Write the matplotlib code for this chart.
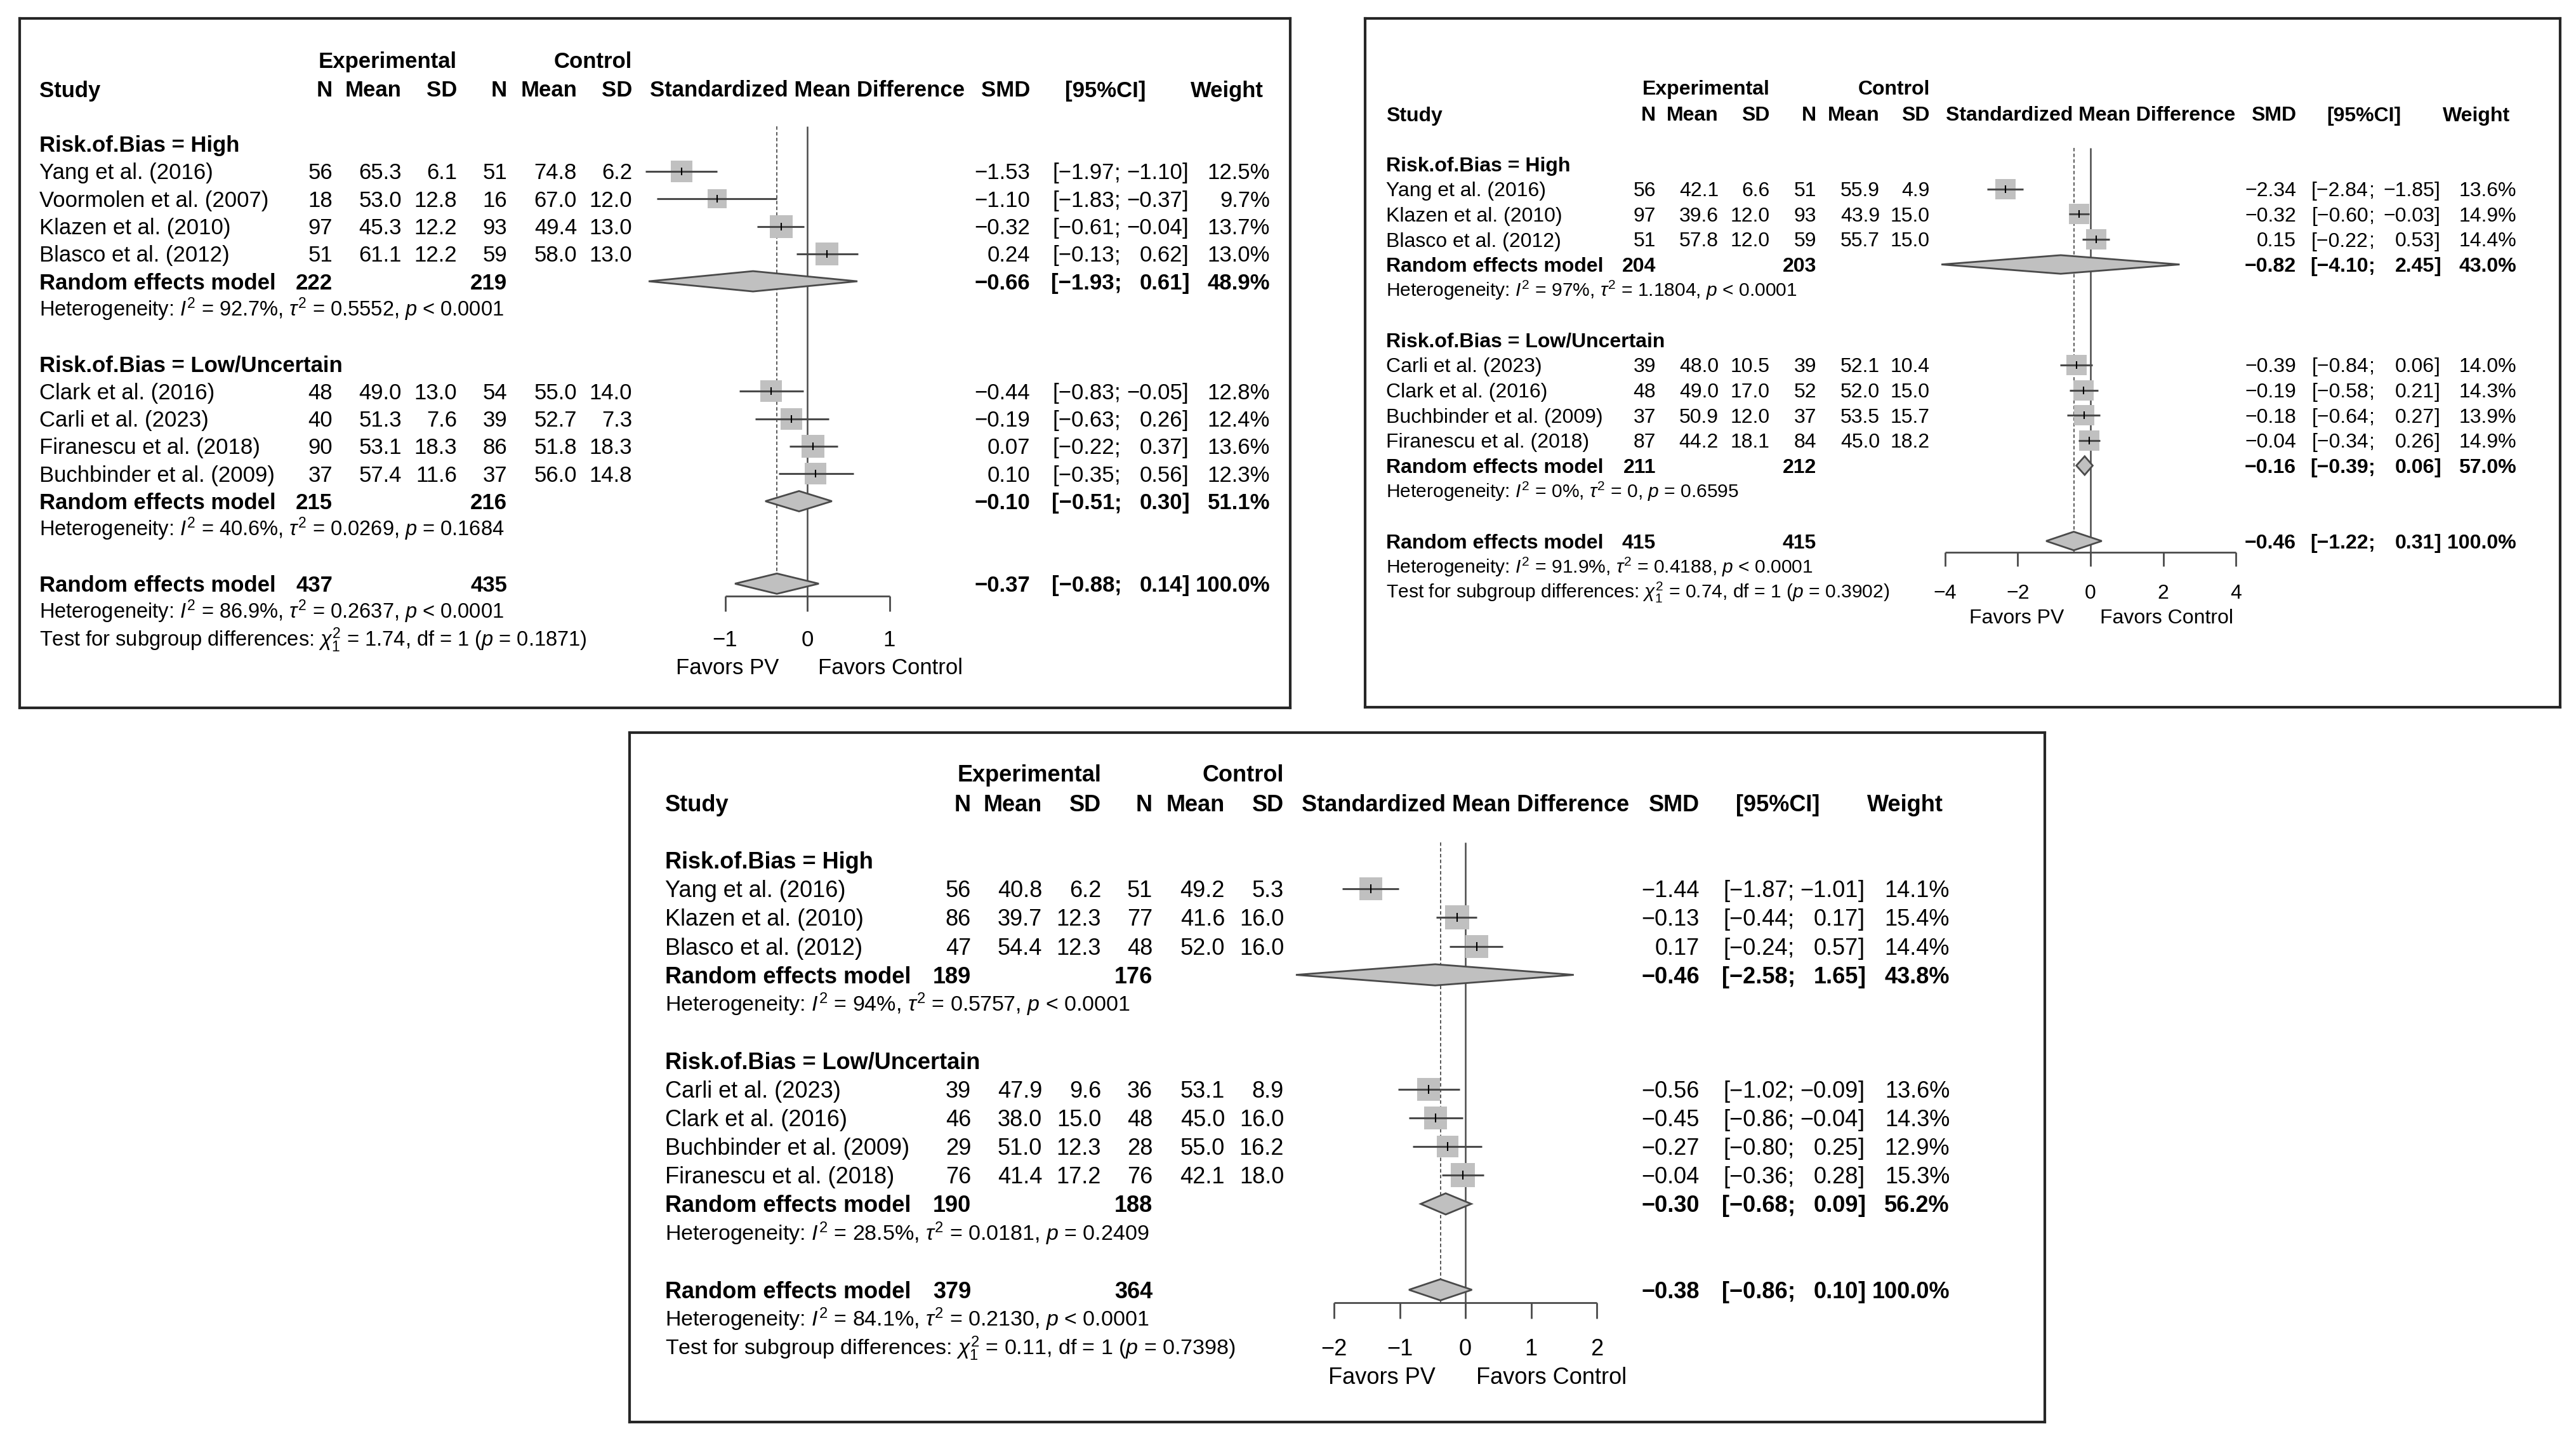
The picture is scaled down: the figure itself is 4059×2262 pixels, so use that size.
import matplotlib.pyplot as plt
from matplotlib import transforms
import numpy as np

plt.rcParams['font.family'] = ['Liberation Sans', 'DejaVu Sans']
plt.rcParams['mathtext.fontset'] = 'custom'
plt.rcParams['mathtext.rm'] = 'Liberation Sans'
plt.rcParams['mathtext.it'] = 'Liberation Sans:italic'
plt.rcParams['mathtext.bf'] = 'Liberation Sans:bold'

# ---------------- panel 1 (top left) ----------------
p1_high_study = ["Yang et al. (2016)", "Voormolen et al. (2007)", "Klazen et al. (2010)", "Blasco et al. (2012)"]
p1_high_exp = [(56, 65.3, 6.1), (18, 53.0, 12.8), (97, 45.3, 12.2), (51, 61.1, 12.2)]
p1_high_ctrl = [(51, 74.8, 6.2), (16, 67.0, 12.0), (93, 49.4, 13.0), (59, 58.0, 13.0)]
p1_high_smd = [-1.53, -1.10, -0.32, 0.24]
p1_high_lo = [-1.97, -1.83, -0.61, -0.13]
p1_high_hi = [-1.10, -0.37, -0.04, 0.62]
p1_high_w = [12.5, 9.7, 13.7, 13.0]
p1_high_re = (222, 219, -0.66, -1.93, 0.61, 48.9)
p1_high_het = ("92.7%", "0.5552", "< 0.0001")

p1_low_study = ["Clark et al. (2016)", "Carli et al. (2023)", "Firanescu et al. (2018)", "Buchbinder et al. (2009)"]
p1_low_exp = [(48, 49.0, 13.0), (40, 51.3, 7.6), (90, 53.1, 18.3), (37, 57.4, 11.6)]
p1_low_ctrl = [(54, 55.0, 14.0), (39, 52.7, 7.3), (86, 51.8, 18.3), (37, 56.0, 14.8)]
p1_low_smd = [-0.44, -0.19, 0.07, 0.10]
p1_low_lo = [-0.83, -0.63, -0.22, -0.35]
p1_low_hi = [-0.05, 0.26, 0.37, 0.56]
p1_low_w = [12.8, 12.4, 13.6, 12.3]
p1_low_re = (215, 216, -0.10, -0.51, 0.30, 51.1)
p1_low_het = ("40.6%", "0.0269", "= 0.1684")

p1_all_re = (437, 435, -0.37, -0.88, 0.14, 100.0)
p1_all_het = ("86.9%", "0.2637", "< 0.0001")
p1_test = ("1.74", "0.1871")
p1_ticks = [-1, 0, 1]

# ---------------- panel 2 (top right) ----------------
p2_high_study = ["Yang et al. (2016)", "Klazen et al. (2010)", "Blasco et al. (2012)"]
p2_high_exp = [(56, 42.1, 6.6), (97, 39.6, 12.0), (51, 57.8, 12.0)]
p2_high_ctrl = [(51, 55.9, 4.9), (93, 43.9, 15.0), (59, 55.7, 15.0)]
p2_high_smd = [-2.34, -0.32, 0.15]
p2_high_lo = [-2.84, -0.60, -0.22]
p2_high_hi = [-1.85, -0.03, 0.53]
p2_high_w = [13.6, 14.9, 14.4]
p2_high_re = (204, 203, -0.82, -4.10, 2.45, 43.0)
p2_high_het = ("97%", "1.1804", "< 0.0001")

p2_low_study = ["Carli et al. (2023)", "Clark et al. (2016)", "Buchbinder et al. (2009)", "Firanescu et al. (2018)"]
p2_low_exp = [(39, 48.0, 10.5), (48, 49.0, 17.0), (37, 50.9, 12.0), (87, 44.2, 18.1)]
p2_low_ctrl = [(39, 52.1, 10.4), (52, 52.0, 15.0), (37, 53.5, 15.7), (84, 45.0, 18.2)]
p2_low_smd = [-0.39, -0.19, -0.18, -0.04]
p2_low_lo = [-0.84, -0.58, -0.64, -0.34]
p2_low_hi = [0.06, 0.21, 0.27, 0.26]
p2_low_w = [14.0, 14.3, 13.9, 14.9]
p2_low_re = (211, 212, -0.16, -0.39, 0.06, 57.0)
p2_low_het = ("0%", "0", "= 0.6595")

p2_all_re = (415, 415, -0.46, -1.22, 0.31, 100.0)
p2_all_het = ("91.9%", "0.4188", "< 0.0001")
p2_test = ("0.74", "0.3902")
p2_ticks = [-4, -2, 0, 2, 4]

# ---------------- panel 3 (bottom) ----------------
p3_high_study = ["Yang et al. (2016)", "Klazen et al. (2010)", "Blasco et al. (2012)"]
p3_high_exp = [(56, 40.8, 6.2), (86, 39.7, 12.3), (47, 54.4, 12.3)]
p3_high_ctrl = [(51, 49.2, 5.3), (77, 41.6, 16.0), (48, 52.0, 16.0)]
p3_high_smd = [-1.44, -0.13, 0.17]
p3_high_lo = [-1.87, -0.44, -0.24]
p3_high_hi = [-1.01, 0.17, 0.57]
p3_high_w = [14.1, 15.4, 14.4]
p3_high_re = (189, 176, -0.46, -2.58, 1.65, 43.8)
p3_high_het = ("94%", "0.5757", "< 0.0001")

p3_low_study = ["Carli et al. (2023)", "Clark et al. (2016)", "Buchbinder et al. (2009)", "Firanescu et al. (2018)"]
p3_low_exp = [(39, 47.9, 9.6), (46, 38.0, 15.0), (29, 51.0, 12.3), (76, 41.4, 17.2)]
p3_low_ctrl = [(36, 53.1, 8.9), (48, 45.0, 16.0), (28, 55.0, 16.2), (76, 42.1, 18.0)]
p3_low_smd = [-0.56, -0.45, -0.27, -0.04]
p3_low_lo = [-1.02, -0.86, -0.80, -0.36]
p3_low_hi = [-0.09, -0.04, 0.25, 0.28]
p3_low_w = [13.6, 14.3, 12.9, 15.3]
p3_low_re = (190, 188, -0.30, -0.68, 0.09, 56.2)
p3_low_het = ("28.5%", "0.0181", "= 0.2409")

p3_all_re = (379, 364, -0.38, -0.86, 0.10, 100.0)
p3_all_het = ("84.1%", "0.2130", "< 0.0001")
p3_test = ("0.11", "0.7398")
p3_ticks = [-2, -1, 0, 1, 2]

group_labels = ["Risk.of.Bias = High", "Risk.of.Bias = Low/Uncertain"]

W, H = 4059, 2262
fig = plt.figure(figsize=(W / 100, H / 100), dpi=100)
fig.patch.set_facecolor('white')

LINE = '#4a4a4a'
BOX = '#c0c0c0'


def num(v):
    s = f"{abs(v):.2f}"
    return "\u2212" + s if v < 0 else s


def het_text(h):
    return rf"Heterogeneity: $I^2$ = {h[0]}, $\tau^2$ = {h[1]}, $p$ {h[2]}"


def draw_panel(g, groups, all_re, all_het, test, ticks):
    x0, y0, x1, y1 = g['box']
    dy, sy, fs = g['dy'], g['study_y'], g['fs']
    c = g['cols']
    rect = [x0 / W, 1 - y1 / H, (x1 - x0) / W, (y1 - y0) / H]
    r_top = (y0 - sy) / dy
    r_bot = (y1 - sy) / dy

    tax = fig.add_axes(rect)
    tax.set_xlim(0, 1)
    tax.set_ylim(r_bot, r_top)
    tax.set_xticks([])
    tax.set_yticks([])
    for sp in tax.spines.values():
        sp.set_linewidth(3)
        sp.set_color('#262626')

    fax = fig.add_axes(rect, frameon=False)
    fax.set_xlim((x0 - g['ref']) / g['ppu'], (x1 - g['ref']) / g['ppu'])
    fax.set_ylim(r_bot, r_top)
    fax.axis('off')

    tr = transforms.blended_transform_factory(fig.transFigure, tax.transData)
    em = fs * 100 / 72 / dy
    fsh = fs * 0.94

    def base(r, size):
        return r + 0.36 * em * size / fs

    def put(xpx, r, s, size=fs, ha='left', bold=False):
        tax.text(xpx / W, base(r, size), s, transform=tr, fontsize=size, ha=ha,
                 va='baseline', fontweight='bold' if bold else 'normal')

    def stats(r, est, lo, hi, w, bold=False):
        put(c['smd'], r, num(est), ha='right', bold=bold)
        put(c['lo'], r, "[" + num(lo), ha='right', bold=bold)
        put(c['lo'], r, ";", bold=bold)
        put(c['hi'], r, num(hi), ha='right', bold=bold)
        put(c['hi'], r, "]", bold=bold)
        put(c['wt'], r, f"{w:.1f}%", ha='right', bold=bold)

    def diamond(r, est, lo, hi):
        h = 0.37
        fax.fill([lo, est, hi, est], [r, r - h, r, r + h], facecolor=BOX,
                 edgecolor=LINE, lw=2, zorder=4)

    # header
    put(c['esd'], -1.05, "Experimental", ha='right', bold=True)
    put(c['csd'], -1.05, "Control", ha='right', bold=True)
    put(c['study'], 0, "Study", bold=True)
    for key, lab in [('en', 'N'), ('em', 'Mean'), ('esd', 'SD'), ('cn', 'N'),
                     ('cm', 'Mean'), ('csd', 'SD'), ('smd', 'SMD')]:
        put(c[key], 0, lab, ha='right', bold=True)
    fax.text(0, base(0, fs), "Standardized Mean Difference", ha='center',
             va='baseline', fontsize=fs, fontweight='bold')
    put(c['cih'], 0, "[95%CI]", ha='center', bold=True)
    put(c['wt'] - 10, 0, "Weight", ha='right', bold=True)

    wmax = max(max(gr[5]) for gr in groups)
    r = 2
    for label, gr in zip(group_labels, groups):
        study, exp, ctrl, smd, (lo, hi), w, re, het = gr
        put(c['study'], r, label, bold=True)
        r += 1
        for i in range(len(study)):
            put(c['study'], r, study[i])
            put(c['en'], r, f"{exp[i][0]}", ha='right')
            put(c['em'], r, f"{exp[i][1]:.1f}", ha='right')
            put(c['esd'], r, f"{exp[i][2]:.1f}", ha='right')
            put(c['cn'], r, f"{ctrl[i][0]}", ha='right')
            put(c['cm'], r, f"{ctrl[i][1]:.1f}", ha='right')
            put(c['csd'], r, f"{ctrl[i][2]:.1f}", ha='right')
            stats(r, smd[i], lo[i], hi[i], w[i])
            side = 0.83 * dy * np.sqrt(w[i] / wmax) * 0.72
            fax.scatter([smd[i]], [r], s=side ** 2, marker='s', color=BOX, lw=0, zorder=3)
            fax.hlines(r, lo[i], hi[i], color=LINE, lw=2.2, zorder=4)
            fax.plot([smd[i]], [r], marker='|', ms=0.3 * dy * 0.72, mew=1.5, color='black', zorder=5)
            r += 1
        put(c['study'], r, "Random effects model", bold=True)
        put(c['en'], r, f"{re[0]}", ha='right', bold=True)
        put(c['cn'], r, f"{re[1]}", ha='right', bold=True)
        stats(r, re[2], re[3], re[4], re[5], bold=True)
        diamond(r, re[2], re[3], re[4])
        r += 1
        put(c['study'], r, het_text(het), size=fsh)
        r += 2

    r_all = r
    put(c['study'], r_all, "Random effects model", bold=True)
    put(c['en'], r_all, f"{all_re[0]}", ha='right', bold=True)
    put(c['cn'], r_all, f"{all_re[1]}", ha='right', bold=True)
    stats(r_all, all_re[2], all_re[3], all_re[4], all_re[5], bold=True)
    diamond(r_all, all_re[2], all_re[3], all_re[4])
    put(c['study'], r_all + 1, het_text(all_het), size=fsh)
    put(c['study'], r_all + 2,
        rf"Test for subgroup differences: $\chi^2_1$ = {test[0]}, df = 1 ($p$ = {test[1]})",
        size=fsh)

    # reference lines and axis
    r_axis = r_all + 0.45
    fax.vlines(0, 1.37, r_axis, color=LINE, lw=1.8, zorder=2)
    fax.vlines(all_re[2], 1.37, r_axis, color=LINE, lw=1.3, linestyles=(0, (3, 2)), zorder=2)
    fax.hlines(r_axis, ticks[0], ticks[-1], color=LINE, lw=2, zorder=2)
    fax.vlines(ticks, r_axis, r_axis + 0.55, color=LINE, lw=2, zorder=2)
    for t in ticks:
        lab = f"{t}" if t >= 0 else "\u2212" + f"{abs(t)}"
        fax.text(t, base(r_all + 2, fs), lab, ha='center', va='baseline', fontsize=fs)
    left_tr = transforms.offset_copy(fax.transData, fig=fig, x=-1.3 * fs, units='points')
    right_tr = transforms.offset_copy(fax.transData, fig=fig, x=0.48 * fs, units='points')
    fax.text(0, base(r_all + 3, fs), "Favors PV", ha='right', va='baseline', fontsize=fs, transform=left_tr)
    fax.text(0, base(r_all + 3, fs), "Favors Control", ha='left', va='baseline', fontsize=fs, transform=right_tr)


geom1 = dict(box=(31, 29, 2033, 1115), study_y=140, dy=43.3, ref=1272, ppu=129.5, fs=25,
             cols=dict(study=62, en=524, em=633, esd=720, cn=799, cm=909, csd=996,
                       smd=1623, lo=1756, hi=1863, wt=2001, cih=1742))
geom2 = dict(box=(2151, 29, 4034, 1114), study_y=179, dy=39.6, ref=3294, ppu=57.3, fs=23,
             cols=dict(study=2184, en=2609, em=2708, esd=2789, cn=2862, cm=2962, csd=3041,
                       smd=3618, lo=3732, hi=3836, wt=3965, cih=3725))
geom3 = dict(box=(992, 1154, 3222, 2240), study_y=1265, dy=45.1, ref=2309, ppu=103.5, fs=26,
             cols=dict(study=1048, en=1530, em=1642, esd=1735, cn=1816, cm=1930, csd=2023,
                       smd=2678, lo=2817, hi=2928, wt=3072, cih=2801))

draw_panel(geom1,
           [(p1_high_study, p1_high_exp, p1_high_ctrl, p1_high_smd, (p1_high_lo, p1_high_hi), p1_high_w, p1_high_re, p1_high_het),
            (p1_low_study, p1_low_exp, p1_low_ctrl, p1_low_smd, (p1_low_lo, p1_low_hi), p1_low_w, p1_low_re, p1_low_het)],
           p1_all_re, p1_all_het, p1_test, p1_ticks)
draw_panel(geom2,
           [(p2_high_study, p2_high_exp, p2_high_ctrl, p2_high_smd, (p2_high_lo, p2_high_hi), p2_high_w, p2_high_re, p2_high_het),
            (p2_low_study, p2_low_exp, p2_low_ctrl, p2_low_smd, (p2_low_lo, p2_low_hi), p2_low_w, p2_low_re, p2_low_het)],
           p2_all_re, p2_all_het, p2_test, p2_ticks)
draw_panel(geom3,
           [(p3_high_study, p3_high_exp, p3_high_ctrl, p3_high_smd, (p3_high_lo, p3_high_hi), p3_high_w, p3_high_re, p3_high_het),
            (p3_low_study, p3_low_exp, p3_low_ctrl, p3_low_smd, (p3_low_lo, p3_low_hi), p3_low_w, p3_low_re, p3_low_het)],
           p3_all_re, p3_all_het, p3_test, p3_ticks)

fig.savefig('out.png', dpi=100, facecolor='white')
